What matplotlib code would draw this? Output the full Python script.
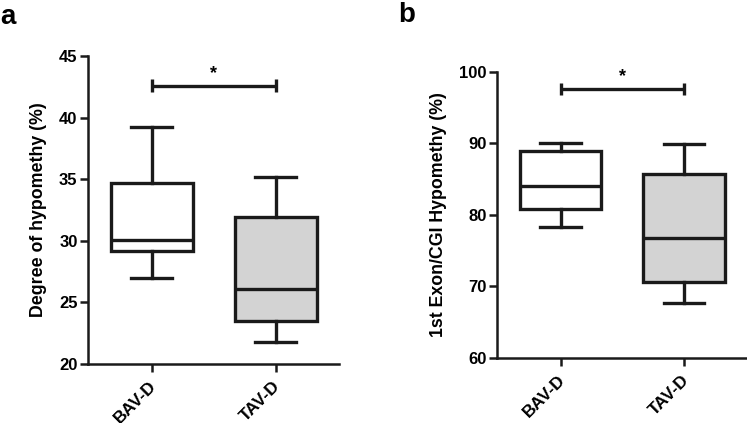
import matplotlib
matplotlib.use("Agg")
import matplotlib.pyplot as plt
from matplotlib.transforms import ScaledTranslation

plt.rcParams['font.family'] = ['Liberation Sans', 'DejaVu Sans']
plt.rcParams['font.weight'] = 'bold'

groups = ["BAV-D", "TAV-D"]

# Panel a: Degree of hypomethy (%)
a_whislo = [27.0, 21.8]
a_q1 = [29.2, 23.5]
a_med = [30.1, 26.1]
a_q3 = [34.7, 31.9]
a_whishi = [39.2, 35.2]
a_sig_y = 42.6

# Panel b: 1st Exon/CGI Hypometh (%)
b_whislo = [78.3, 67.7]
b_q1 = [80.9, 70.6]
b_med = [84.1, 76.8]
b_q3 = [89.0, 85.8]
b_whishi = [90.1, 89.9]
b_sig_y = 97.6

fills = ["white", "#d3d3d3"]

W, H = 747, 423
fig = plt.figure(figsize=(W / 100, H / 100), dpi=100)

def px_axes(l, t, r, b):
    return fig.add_axes([l / W, 1 - b / H, (r - l) / W, (b - t) / H])

ax_a = px_axes(88, 56, 339, 364)
ax_b = px_axes(497, 72, 747, 358)

def draw(ax, wlo, q1, med, q3, whi, sig_y, ylim, yticks, ylabel, cap_h, star_off):
    stats = []
    for i in range(len(groups)):
        stats.append(dict(whislo=wlo[i], q1=q1[i], med=med[i], q3=q3[i], whishi=whi[i], label=groups[i]))
    lw = 2.4
    bp = ax.bxp(stats, positions=[1, 2], widths=0.66, showfliers=False, patch_artist=True,
                boxprops=dict(linewidth=lw, edgecolor='#1a1a1a'),
                medianprops=dict(linewidth=lw, color='#1a1a1a'),
                whiskerprops=dict(linewidth=lw, color='#1a1a1a'),
                capprops=dict(linewidth=lw, color='#1a1a1a'),
                capwidths=0.33)
    for patch, c in zip(bp['boxes'], fills):
        patch.set_facecolor(c)
    # significance bar
    ax.plot([1, 2], [sig_y, sig_y], color='#1a1a1a', lw=lw, solid_capstyle='butt')
    for x in [1, 2]:
        ax.plot([x, x], [sig_y - cap_h, sig_y + cap_h], color='#1a1a1a', lw=lw, solid_capstyle='butt')
    ax.text(1.5, sig_y + star_off, "*", ha='center', va='bottom', fontsize=13, fontweight='bold')
    ax.set_xlim(0.485, 2.51)
    ax.set_ylim(*ylim)
    ax.set_yticks(yticks)
    ax.set_xticks([1, 2])
    ax.set_xticklabels(groups, rotation=45, ha='right', rotation_mode='anchor', fontsize=12.5, fontweight='bold')
    ax.tick_params(axis='both', direction='out', length=6, width=1.8, labelsize=12, color='#1a1a1a')
    ax.tick_params(axis='x', pad=4.5, labelsize=12.5)
    ax.tick_params(axis='y', pad=1.5)
    off = ScaledTranslation(-3 / 100, 0, fig.dpi_scale_trans)
    for lab in ax.get_xticklabels():
        lab.set_transform(lab.get_transform() + off)
    for lab in ax.get_yticklabels():
        lab.set_fontweight('bold')
    ax.spines['top'].set_visible(False)
    ax.spines['right'].set_visible(False)
    for s in ['left', 'bottom']:
        ax.spines[s].set_linewidth(1.8)
        ax.spines[s].set_color('#1a1a1a')
    ax.set_ylabel(ylabel, fontsize=12.8, fontweight='bold', labelpad=9)
    ax.patch.set_alpha(0)

draw(ax_a, a_whislo, a_q1, a_med, a_q3, a_whishi, a_sig_y, (20, 45), [20, 25, 30, 35, 40, 45],
     "Degree of hypomethy (%)", 0.5, 0.3)
draw(ax_b, b_whislo, b_q1, b_med, b_q3, b_whishi, b_sig_y, (60, 100), [60, 70, 80, 90, 100],
     "1st Exon/CGI Hypomethy (%)", 0.8, 0.5)

fig.text(0 / W, 1 - 4 / H, "a", fontsize=20, fontweight='bold', va='top', ha='left')
fig.text(398 / W, 1 - 2 / H, "b", fontsize=20, fontweight='bold', va='top', ha='left')

fig.savefig("out.png", dpi=100)
